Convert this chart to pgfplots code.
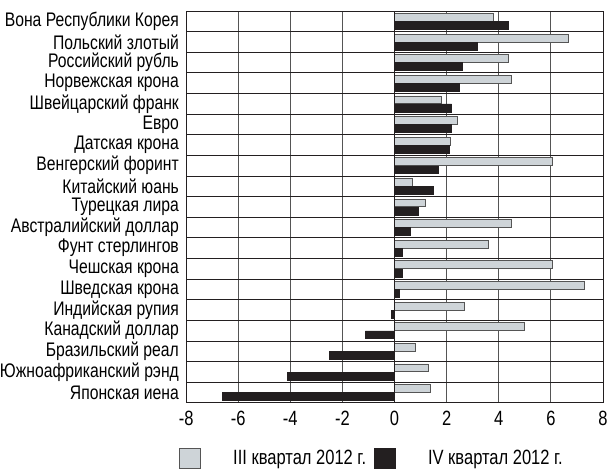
\documentclass[border=0pt]{standalone}
\usepackage{fontspec}
\setmainfont[FakeStretch=0.80]{Liberation Sans}
\usepackage{pgfplots}
\pgfplotsset{compat=1.18}
\definecolor{lightbar}{HTML}{CED4D8}
\definecolor{darkbar}{HTML}{231F20}
\definecolor{gridc}{HTML}{555555}
\begin{document}
\begin{tikzpicture}
\begin{axis}[
  name=main,
  scale only axis,
  width=414pt, height=389pt,
  xmin=-8, xmax=8,
  ymin=-0.5, ymax=18.5,
  y dir=reverse,
  xtick={-8,-6,...,8},
  ytick={0,...,18},
  minor ytick={0.5,1.5,...,17.5},
  yticklabels={Вона Республики Корея,Польский злотый,Российский рубль,Норвежская крона,Швейцарский франк,Евро,Датская крона,Венгерский форинт,Китайский юань,Турецкая лира,Австралийский доллар,Фунт стерлингов,Чешская крона,Шведская крона,Индийская рупия,Канадский доллар,Бразильский реал,Южноафриканский рэнд,Японская иена},
  major tick length=0pt, minor tick length=0pt,
  xmajorgrids, yminorgrids,
  major grid style={gridc, line width=0.9pt},
  minor grid style={darkbar, line width=0.9pt},
  axis line style={darkbar, line width=0.9pt},
  tick label style={font=\fontsize{19.5}{19.5}\selectfont},
  xticklabel style={font=\fontsize{20.5}{20.5}\selectfont, inner ysep=0pt, yshift=-8pt},
  /pgf/number format/assume math mode=true,
  yticklabel style={inner xsep=0pt, inner ysep=0pt, xshift=-7pt},
  xbar, bar width=7.8pt,
  legend style={at={(-0.017,-0.115)}, anchor=north west, draw=none, fill=none,
    inner sep=0pt, outer sep=0pt,
    legend columns=2, font=\fontsize{20.5}{20.5}\selectfont,
    /tikz/every even column/.style={column sep=6pt}},
  legend image code/.code={\draw[#1] (0pt,-10pt) rectangle (21pt,10pt);},
  legend cell align=left,
]
\addplot[fill=lightbar, draw=gridc, line width=0.8pt, bar shift=4pt] coordinates {
(3.79,0) (6.68,1) (4.38,2) (4.48,3) (1.78,4) (2.40,5) (2.16,6) (6.07,7) (0.70,8) (1.19,9)
(4.48,10) (3.60,11) (6.07,12) (7.28,13) (2.68,14) (4.99,15) (0.79,16) (1.28,17) (1.39,18)};
\addlegendentry{\hspace{30pt}III квартал 2012 г.}
\addplot[fill=darkbar, draw=darkbar, line width=0.5pt, bar shift=-4pt] coordinates {
(4.38,0) (3.18,1) (2.59,2) (2.50,3) (2.19,4) (2.19,5) (2.10,6) (1.69,7) (1.49,8) (0.90,9)
(0.59,10) (0.30,11) (0.30,12) (0.19,13) (-0.12,14) (-1.12,15) (-2.51,16) (-4.12,17) (-6.61,18)};
\addlegendentry{\hspace{30pt}IV квартал 2012 г.}
\draw[darkbar, line width=1.2pt] (axis cs:0,-0.5) -- (axis cs:0,18.5);
\end{axis}
% keep the blank margin above the plot area
\path ([yshift=11pt]main.north);
\end{tikzpicture}
\end{document}
